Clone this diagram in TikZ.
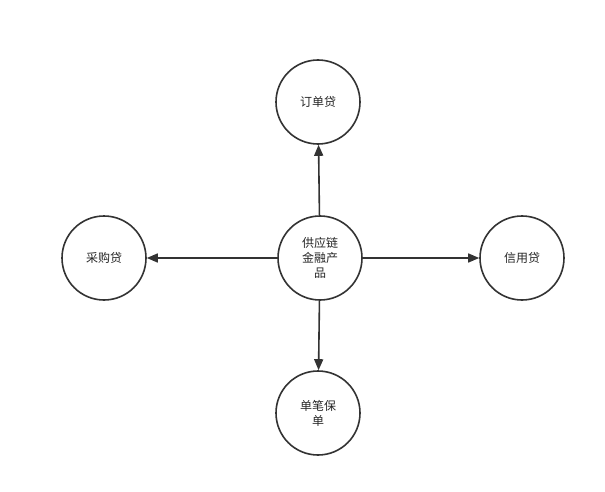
\documentclass[tikz,border=0pt]{standalone}
\usepackage{fontspec}
\setmainfont{Noto Sans CJK SC}
\usetikzlibrary{arrows.meta}
\begin{document}
\begin{tikzpicture}[x=1pt,y=-1pt,
  circ/.style={draw=black!80,line width=1.6pt,circle,minimum size=84pt,inner sep=0pt,align=center,font=\fontsize{12}{15}\selectfont,text=black!85},
  conn/.style={draw=black!80,line width=1.6pt,-{Triangle[length=11pt,width=9pt]}}]
\useasboundingbox (0,0) rectangle (605,492);
\node[circ] (c) at (320,258) {供应链\\金融产\\品};
\node[circ] (t) at (318,102) {订单贷};
\node[circ] (l) at (104,258) {采购贷};
\node[circ] (r) at (522,258) {信用贷};
\node[circ] (b) at (318,413) {单笔保\\单};
\draw[conn] (c) -- (t);
\draw[conn] (c) -- (l);
\draw[conn] (c) -- (r);
\draw[conn] (c) -- (b);
\end{tikzpicture}
\end{document}
